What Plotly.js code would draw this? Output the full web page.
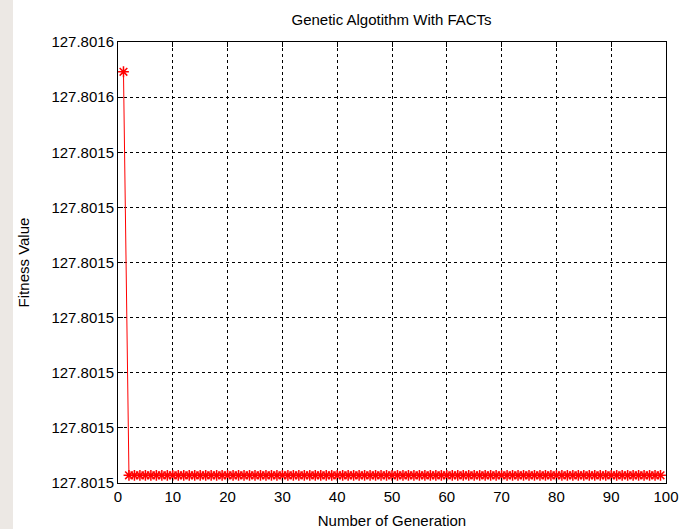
<!DOCTYPE html>
<html>
<head>
<meta charset="utf-8">
<script src="https://cdn.plot.ly/plotly-3.0.1.min.js"></script>
<style>html,body{margin:0;padding:0;background:#fff;}#chart{width:693px;height:529px;}</style>
</head>
<body>
<div id="chart"></div>
<script>
// Data
var generations = [1,2,3,4,5,6,7,8,9,10,11,12,13,14,15,16,17,18,19,20,21,22,23,24,25,26,27,28,29,30,31,32,33,34,35,36,37,38,39,40,41,42,43,44,45,46,47,48,49,50,51,52,53,54,55,56,57,58,59,60,61,62,63,64,65,66,67,68,69,70,71,72,73,74,75,76,77,78,79,80,81,82,83,84,85,86,87,88,89,90,91,92,93,94,95,96,97,98,99,100];
var fitness = [127.8015573,
127.8015207,127.8015207,127.8015207,127.8015207,127.8015207,127.8015207,127.8015207,127.8015207,127.8015207,
127.8015207,127.8015207,127.8015207,127.8015207,127.8015207,127.8015207,127.8015207,127.8015207,127.8015207,127.8015207,
127.8015207,127.8015207,127.8015207,127.8015207,127.8015207,127.8015207,127.8015207,127.8015207,127.8015207,127.8015207,
127.8015207,127.8015207,127.8015207,127.8015207,127.8015207,127.8015207,127.8015207,127.8015207,127.8015207,127.8015207,
127.8015207,127.8015207,127.8015207,127.8015207,127.8015207,127.8015207,127.8015207,127.8015207,127.8015207,127.8015207,
127.8015207,127.8015207,127.8015207,127.8015207,127.8015207,127.8015207,127.8015207,127.8015207,127.8015207,127.8015207,
127.8015207,127.8015207,127.8015207,127.8015207,127.8015207,127.8015207,127.8015207,127.8015207,127.8015207,127.8015207,
127.8015207,127.8015207,127.8015207,127.8015207,127.8015207,127.8015207,127.8015207,127.8015207,127.8015207,127.8015207,
127.8015207,127.8015207,127.8015207,127.8015207,127.8015207,127.8015207,127.8015207,127.8015207,127.8015207,127.8015207,
127.8015207,127.8015207,127.8015207,127.8015207,127.8015207,127.8015207,127.8015207,127.8015207,127.8015207];
var xTickVals = [0,10,20,30,40,50,60,70,80,90,100];
var xTickText = ['0','10','20','30','40','50','60','70','80','90','100'];
var yTickVals = [127.80152,127.801525,127.80153,127.801535,127.80154,127.801545,127.80155,127.801555,127.80156];
var yTickText = ['127.8015','127.8015','127.8015','127.8015','127.8015','127.8015','127.8015','127.8016','127.8016'];

var fontFam = '"Liberation Sans", Arial, sans-serif';
var trace = {
  x: generations, y: fitness, type: 'scatter', mode: 'lines+markers',
  line: {color: '#ff0000', width: 1},
  marker: {symbol: 'asterisk-open', size: 9, color: '#ff0000', line: {color: '#ff0000', width: 1.5}},
  hoverinfo: 'none'
};
var axisCommon = {
  showline: true, linecolor: '#000', linewidth: 1, mirror: 'ticks',
  ticks: 'inside', ticklen: 5, tickcolor: '#000',
  showgrid: true, gridcolor: '#000', gridwidth: 1, griddash: '3px,3px',
  zeroline: false, tickfont: {family: fontFam, size: 15, color: '#000'}
};
var layout = {
  width: 693, height: 529,
  margin: {l: 118, r: 27, t: 42, b: 46},
  paper_bgcolor: '#ffffff', plot_bgcolor: '#ffffff',
  showlegend: false,
  title: {text: 'Genetic Algotithm With FACTs', font: {family: fontFam, size: 15, color: '#000'},
          x: 0.565, xanchor: 'center', y: 1 - 20/529, yanchor: 'middle', yref: 'container'},
  xaxis: Object.assign({}, axisCommon, {
    range: [0, 100], tickmode: 'array', tickvals: xTickVals, ticktext: xTickText,
    title: {text: 'Number of Generation', font: {family: fontFam, size: 15, color: '#000'}, standoff: 11}
  }),
  yaxis: Object.assign({}, axisCommon, {
    range: [127.80152, 127.80156], tickmode: 'array', tickvals: yTickVals, ticktext: yTickText,
    title: {text: 'Fitness Value', font: {family: fontFam, size: 15, color: '#000'}, standoff: 18}
  }),
  shapes: [{type: 'rect', xref: 'paper', yref: 'paper', x0: -118/548, x1: -105/548, y0: -46/441, y1: 1 + 42/441,
            fillcolor: '#ece8e4', line: {width: 0}, layer: 'below'}]
};
Plotly.newPlot('chart', [trace], layout, {staticPlot: true, displayModeBar: false});
</script>
</body>
</html>
